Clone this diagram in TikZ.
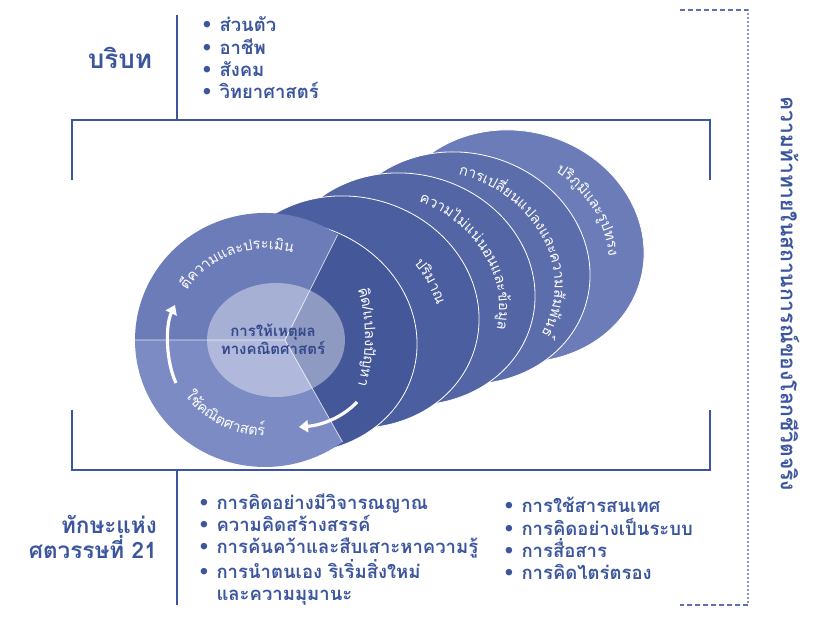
\documentclass[tikz,border=0pt]{standalone}
\usepackage{fontspec}
\usepackage{tikz}
\usetikzlibrary{arrows.meta,decorations.text}
\newfontfamily\thaifont[Script=Thai]{Loma}
\newfontfamily\symfont{DejaVu Sans}
\definecolor{mainblue}{RGB}{60,86,158}
\definecolor{dotblue}{RGB}{92,114,180}
\definecolor{shadeA}{RGB}{68,87,152}
\definecolor{shadeB}{RGB}{75,94,159}
\definecolor{shadeC}{RGB}{83,101,165}
\definecolor{shadeD}{RGB}{92,109,172}
\definecolor{shadeE}{RGB}{108,124,184}
\definecolor{frontup}{RGB}{108,124,184}
\definecolor{frontlow}{RGB}{124,139,196}
\definecolor{coretext}{RGB}{52,72,140}
\newcommand\blt{{\symfont •}\hspace{0.35em}}
\newcommand\diskfont{\thaifont\fontsize{14.5}{15}\selectfont\color{white}}

\begin{document}
\begin{tikzpicture}[x=1pt,y=1pt]
  \tikzset{heading/.style={font=\thaifont\bfseries\fontsize{22.5}{25.5}\selectfont,text=mainblue,inner sep=0pt}}
  \tikzset{itemlist/.style={font=\thaifont\bfseries\fontsize{18.5}{22.3}\selectfont,text=mainblue,align=left,inner sep=0pt,anchor=west}}
  \tikzset{frameline/.style={draw=mainblue,line width=2.6pt}}
  \tikzset{bracket/.style={draw=dotblue,line width=1.6pt}}
  \tikzset{disk/.style={fill=#1,draw=white,line width=0.8pt}}
  \tikzset{ringtext/.style={decorate,decoration={text along path,text align=center,text={|\diskfont|#1}}}}
  \tikzset{turn/.style={draw=white,line width=3.2pt,-{Triangle[width=12pt,length=9pt]}}}
  \useasboundingbox (0,0) rectangle (830,618);

  % context and skills
  \node[heading,font=\thaifont\bfseries\fontsize{26}{30}\selectfont] (ctxtitle) at (120,560) {บริบท};
  \node[itemlist] (ctxlist) at (201,560) {\blt ส่วนตัว\\\blt อาชีพ\\\blt สังคม\\\blt วิทยาศาสตร์};
  \node[heading,align=right,anchor=east] (skilltitle) at (157,81) {ทักษะแห่ง\\ศตวรรษที่ 21};
  \node[itemlist] (skillsA) at (198,68.5) {\blt การคิดอย่างมีวิจารณญาณ\\\blt ความคิดสร้างสรรค์\\\blt การค้นคว้าและสืบเสาะหาความรู้\\\blt การนำตนเอง ริเริ่มสิ่งใหม่\\\phantom{\blt}และความมุมานะ};
  \node[itemlist] (skillsB) at (503,79.5) {\blt การใช้สารสนเทศ\\\blt การคิดอย่างเป็นระบบ\\\blt การสื่อสาร\\\blt การคิดไตร่ตรอง};
  \node[heading,font=\thaifont\bfseries\fontsize{21}{25}\selectfont,rotate=-90] (challenge) at (790,324) {ความท้าทายในสถานการณ์ของโลกชีวิตจริง};

  % frame
  \coordinate (fnw) at (72,498);
  \coordinate (fne) at (710,498);
  \coordinate (fsw) at (72,148);
  \coordinate (fse) at (710,148);
  \coordinate (ctxtop) at (177,603);
  \coordinate (skillbot) at (177,13);
  \draw[frameline] (fnw) ++(0,-60) -- (fnw) -- (fne) -- ++(0,-60);
  \draw[frameline] (fsw) ++(0,60) -- (fsw) -- (fse) -- ++(0,60);
  \draw[frameline] (ctxtop) -- (ctxtop |- fnw);
  \draw[frameline] (skillbot) -- (skillbot |- fsw);
  \coordinate (brtop) at (748,608);
  \coordinate (brbot) at (748,13);
  \draw[bracket,dash pattern=on 5pt off 3pt] (brtop) ++(-68,0) -- (brtop);
  \draw[bracket,line width=2.2pt,line cap=round,dash pattern=on 0pt off 4pt] (brtop) -- (brbot);
  \draw[bracket,dash pattern=on 5pt off 3pt] (brbot) -- ++(-68,0);

  % disks
  \coordinate (diskA) at (288,281);
  \coordinate (diskB) at (350,306);
  \coordinate (diskC) at (406,329);
  \coordinate (diskD) at (461,350);
  \coordinate (diskE) at (515,372);
  \foreach \d/\c in {E/shadeE,D/shadeD,C/shadeC,B/shadeB,A/shadeA}
    \path[disk=\c,rotate around={-15:(disk\d)}] (disk\d) ellipse [x radius=130,y radius=115];
  \coordinate (front) at (265,278);
  \coordinate (apex) at (285,278);
  \fill[frontup] (apex) -- ([shift={(56:130 and 127)}]front) arc[start angle=56,end angle=180,x radius=130,y radius=127] -- cycle;
  \fill[frontlow] (apex) -- ([shift={(180:130 and 127)}]front) arc[start angle=180,end angle=306.6,x radius=130,y radius=127] -- cycle;
  \draw[white,line width=0.7pt,opacity=0.8] ([shift={(180:130 and 127)}]front) -- (apex) -- ([shift={(56:130 and 127)}]front)
    (apex) -- ([shift={(306.6:130 and 127)}]front);
  \fill[white,opacity=0.4] (276,278) ellipse [x radius=69,y radius=57];
  \node[font=\thaifont\bfseries\fontsize{15}{18}\selectfont,text=coretext,align=center] (core) at (273,279) {การให้เหตุผล\\ทางคณิตศาสตร์};

  % arrows
  \coordinate (upS) at (176,235);
  \coordinate (upE) at (175,313);
  \coordinate (downS) at (357,216);
  \coordinate (downE) at (299,191);
  \draw[turn] (upS) .. controls (166,256) and (165,292) .. (upE);
  \draw[turn] (downS) .. controls (344,202) and (324,193) .. (downE);

  % labels on the disks
  \path[ringtext={{ตี}{ค}{ว}{า}{ม}{แ}{ล}{ะ}{ป}{ร}{ะ}{เ}{มิ}{น}}] ([shift={(168:93 and 91)}]front) arc[start angle=168,end angle=52,x radius=93,y radius=91];
  \path[ringtext={{ใ}{ช้}{ค}{ณิ}{ต}{ศ}{า}{ส}{ต}{ร์}}] ([shift={(198:98 and 96)}]front) arc[start angle=198,end angle=287,x radius=98,y radius=96];
  \coordinate (solve) at (200,281);
  \path[ringtext={{คิ}{ด}{/}{แ}{ป}{ล}{ง}{ปั}{ญ}{ห}{า}}] ([shift={(25:165)}]solve) arc[start angle=25,end angle=-25,radius=165];
  \begin{scope}[shift={(319,293.5)},rotate=-15]
    \path[ringtext={{ป}{ริ}{ม}{า}{ณ}}] (70:122 and 107) arc[start angle=70,end angle=7,x radius=122,y radius=107];
  \end{scope}
  \begin{scope}[shift={(378,317.5)},rotate=-15]
    \path[ringtext={{ค}{ว}{า}{ม}{ไ}{ม่}{แ}{น่}{น}{อ}{น}{แ}{ล}{ะ}{ข้}{อ}{มู}{ล}}] (98:122 and 107) arc[start angle=98,end angle=-15,x radius=122,y radius=107];
  \end{scope}
  \begin{scope}[shift={(433.5,339.5)},rotate=-15]
    \path[ringtext={{ก}{า}{ร}{เ}{ป}{ลี่}{ย}{น}{แ}{ป}{ล}{ง}{แ}{ล}{ะ}{ค}{ว}{า}{ม}{สั}{ม}{พั}{น}{ธ์}}] (105:122 and 107) arc[start angle=105,end angle=-29,x radius=122,y radius=107];
  \end{scope}
  \begin{scope}[shift={(488,361)},rotate=-15]
    \path[ringtext={{ป}{ริ}{ภู}{มิ}{แ}{ล}{ะ}{รู}{ป}{ท}{ร}{ง}}] (75:122 and 107) arc[start angle=75,end angle=11,x radius=122,y radius=107];
  \end{scope}
\end{tikzpicture}
\end{document}
